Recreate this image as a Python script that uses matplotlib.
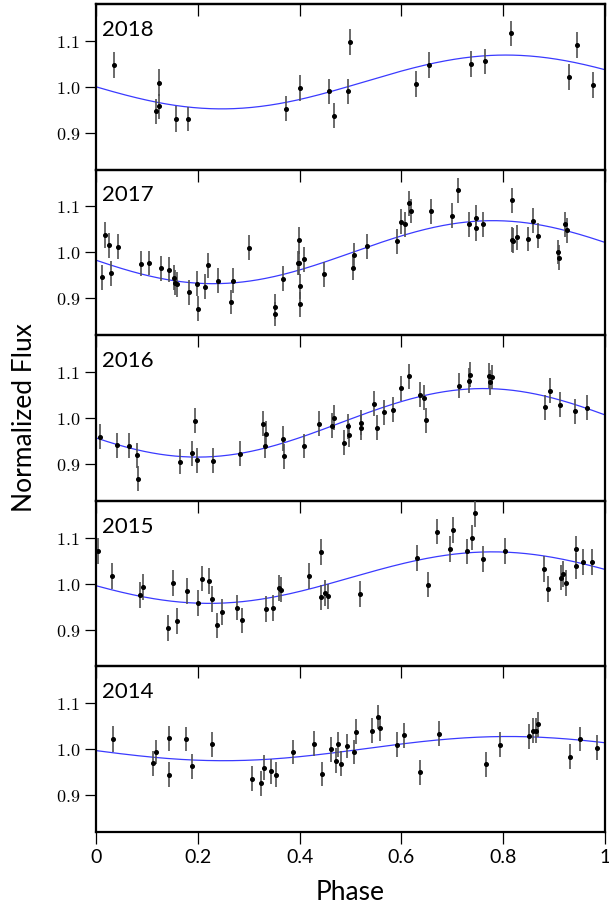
import numpy as np
import matplotlib
matplotlib.use("Agg")
import matplotlib.pyplot as plt
from matplotlib.ticker import FuncFormatter, FixedLocator

plt.rcParams['mathtext.fontset'] = 'cm'
SANS = ['Lato', 'DejaVu Sans']

years = ["2018", "2017", "2016", "2015", "2014"]

# ---- data (phase, normalized flux, error) ----
phase_2018 = [0.036, 0.118, 0.124, 0.124, 0.157, 0.181, 0.373, 0.400, 0.458, 0.467,
              0.496, 0.499, 0.629, 0.655, 0.737, 0.765, 0.816, 0.929, 0.945, 0.976]
flux_2018 = [1.047, 0.947, 1.009, 0.958, 0.930, 0.930, 0.952, 0.998, 0.990, 0.937,
             0.990, 1.098, 1.006, 1.047, 1.050, 1.055, 1.116, 1.022, 1.091, 1.004]
err_2018 = [0.028, 0.027, 0.029, 0.027, 0.028, 0.027, 0.027, 0.028, 0.028, 0.027,
            0.028, 0.028, 0.028, 0.028, 0.028, 0.028, 0.028, 0.028, 0.028, 0.028]

phase_2017 = [0.012, 0.018, 0.026, 0.029, 0.043, 0.088, 0.105, 0.128, 0.143, 0.154,
              0.156, 0.160, 0.183, 0.198, 0.200, 0.215, 0.220, 0.240, 0.265, 0.269,
              0.301, 0.351, 0.352, 0.368, 0.396, 0.398, 0.399, 0.400, 0.400, 0.409,
              0.448, 0.504, 0.506, 0.533, 0.592, 0.600, 0.608, 0.615, 0.619, 0.659,
              0.699, 0.711, 0.732, 0.746, 0.747, 0.760, 0.817, 0.818, 0.819, 0.827,
              0.848, 0.858, 0.868, 0.908, 0.910, 0.921, 0.925]
flux_2017 = [0.946, 1.037, 1.015, 0.955, 1.012, 0.975, 0.977, 0.965, 0.962, 0.945,
             0.934, 0.931, 0.913, 0.932, 0.878, 0.925, 0.972, 0.938, 0.892, 0.938,
             1.010, 0.882, 0.866, 0.943, 0.977, 1.026, 0.977, 0.926, 0.887, 0.985,
             0.952, 0.966, 0.994, 1.013, 1.024, 1.067, 1.061, 1.107, 1.090, 1.089,
             1.080, 1.135, 1.061, 1.075, 1.052, 1.061, 1.113, 1.028, 1.025, 1.033,
             1.029, 1.069, 1.036, 1.001, 0.988, 1.061, 1.048]
err_2017 = [0.027, 0.028, 0.027, 0.027, 0.027, 0.027, 0.027, 0.027, 0.027, 0.027,
            0.027, 0.027, 0.027, 0.027, 0.027, 0.027, 0.027, 0.027, 0.027, 0.027,
            0.027, 0.027, 0.027, 0.027, 0.027, 0.030, 0.027, 0.027, 0.027, 0.027,
            0.027, 0.027, 0.027, 0.027, 0.027, 0.027, 0.027, 0.027, 0.027, 0.027,
            0.027, 0.027, 0.027, 0.027, 0.027, 0.027, 0.027, 0.027, 0.027, 0.027,
            0.027, 0.027, 0.027, 0.027, 0.027, 0.027, 0.027]

phase_2016 = [0.007, 0.042, 0.064, 0.081, 0.083, 0.166, 0.189, 0.195, 0.198, 0.229,
              0.282, 0.328, 0.334, 0.333, 0.367, 0.369, 0.409, 0.439, 0.463, 0.467,
              0.487, 0.496, 0.497, 0.521, 0.521, 0.546, 0.553, 0.565, 0.584, 0.599,
              0.615, 0.636, 0.645, 0.649, 0.714, 0.732, 0.735, 0.772, 0.775, 0.778,
              0.882, 0.892, 0.911, 0.941, 0.964]
flux_2016 = [0.959, 0.941, 0.940, 0.919, 0.868, 0.905, 0.923, 0.994, 0.908, 0.907,
             0.922, 0.988, 0.966, 0.939, 0.955, 0.917, 0.939, 0.988, 0.983, 1.001,
             0.946, 0.982, 0.963, 0.990, 0.979, 1.031, 0.979, 1.012, 1.018, 1.065,
             1.091, 1.051, 1.044, 0.995, 1.070, 1.081, 1.094, 1.092, 1.078, 1.089,
             1.023, 1.059, 1.029, 1.015, 1.022]
err_2016 = [0.027, 0.027, 0.027, 0.027, 0.027, 0.027, 0.027, 0.027, 0.027, 0.027,
            0.027, 0.027, 0.027, 0.027, 0.027, 0.027, 0.027, 0.027, 0.027, 0.027,
            0.027, 0.027, 0.027, 0.027, 0.027, 0.027, 0.027, 0.027, 0.027, 0.027,
            0.027, 0.027, 0.027, 0.027, 0.027, 0.027, 0.027, 0.027, 0.027, 0.027,
            0.027, 0.027, 0.027, 0.027, 0.027]

phase_2015 = [0.003, 0.031, 0.087, 0.092, 0.142, 0.151, 0.159, 0.178, 0.200, 0.208,
              0.223, 0.227, 0.238, 0.248, 0.278, 0.287, 0.335, 0.347, 0.360, 0.363,
              0.419, 0.443, 0.443, 0.449, 0.455, 0.519, 0.631, 0.653, 0.670, 0.696,
              0.702, 0.729, 0.738, 0.744, 0.760, 0.804, 0.880, 0.889, 0.914, 0.918,
              0.923, 0.943, 0.943, 0.956, 0.975]
flux_2015 = [1.071, 1.017, 0.975, 0.992, 0.904, 1.001, 0.919, 0.984, 0.958, 1.011,
             1.005, 0.967, 0.909, 0.938, 0.948, 0.920, 0.945, 0.947, 0.990, 0.987,
             1.016, 1.068, 0.970, 0.980, 0.972, 0.977, 1.056, 0.998, 1.113, 1.076,
             1.117, 1.070, 1.100, 1.153, 1.054, 1.071, 1.032, 0.988, 1.013, 1.021,
             1.002, 1.075, 1.039, 1.047, 1.047]
err_2015 = [0.028, 0.028, 0.028, 0.028, 0.028, 0.028, 0.028, 0.028, 0.028, 0.028,
            0.028, 0.028, 0.028, 0.028, 0.028, 0.028, 0.028, 0.028, 0.028, 0.028,
            0.028, 0.028, 0.028, 0.028, 0.028, 0.028, 0.028, 0.028, 0.028, 0.028,
            0.028, 0.028, 0.028, 0.029, 0.028, 0.028, 0.028, 0.028, 0.028, 0.028,
            0.028, 0.028, 0.028, 0.028, 0.028]

phase_2014 = [0.033, 0.113, 0.118, 0.143, 0.144, 0.177, 0.189, 0.227, 0.307, 0.324,
              0.330, 0.344, 0.354, 0.387, 0.429, 0.444, 0.461, 0.471, 0.476, 0.481,
              0.494, 0.507, 0.511, 0.543, 0.555, 0.558, 0.592, 0.605, 0.637, 0.673,
              0.766, 0.794, 0.851, 0.859, 0.864, 0.868, 0.931, 0.951, 0.984]
flux_2014 = [1.022, 0.969, 0.994, 1.024, 0.945, 1.022, 0.963, 1.011, 0.936, 0.926,
             0.960, 0.952, 0.945, 0.994, 1.012, 0.946, 1.000, 0.975, 1.011, 0.968,
             1.007, 0.994, 1.038, 1.040, 1.070, 1.045, 1.010, 1.030, 0.950, 1.034,
             0.967, 1.010, 1.028, 1.040, 1.040, 1.054, 0.984, 1.022, 1.003]
err_2014 = [0.028, 0.027, 0.027, 0.027, 0.027, 0.027, 0.027, 0.027, 0.027, 0.027,
            0.027, 0.027, 0.027, 0.027, 0.027, 0.027, 0.027, 0.027, 0.027, 0.027,
            0.027, 0.027, 0.027, 0.027, 0.027, 0.027, 0.027, 0.027, 0.027, 0.027,
            0.027, 0.027, 0.027, 0.027, 0.027, 0.027, 0.027, 0.027, 0.027]

# ---- fitted sinusoid parameters per season: mean, amplitude, period, phase of max ----
fit_mean = [1.0105, 1.0005, 0.9895, 1.013, 1.0013]
fit_amp = [0.0585, 0.0685, 0.0745, 0.056, 0.0263]
fit_period = [1.116, 1.10, 1.123, 1.114, 1.119]
fit_tmax = [0.805, 0.78, 0.761, 0.779, 0.81]

phases = [phase_2018, phase_2017, phase_2016, phase_2015, phase_2014]
fluxes = [flux_2018, flux_2017, flux_2016, flux_2015, flux_2014]
errs = [err_2018, err_2017, err_2016, err_2015, err_2014]

fig = plt.figure(figsize=(6.09, 9.08), dpi=100)
gs = fig.add_gridspec(5, 1, left=0.1576, right=0.9934, top=0.9956, bottom=0.0837, hspace=0)
axes = [fig.add_subplot(gs[i]) for i in range(5)]

xgrid = np.linspace(0, 1, 400)
for i, ax in enumerate(axes):
    ax.set_facecolor('none')
    model = fit_mean[i] + fit_amp[i] * np.cos(2 * np.pi * (xgrid - fit_tmax[i]) / fit_period[i])
    ax.plot(xgrid, model, color='#3a3aff', lw=0.9, zorder=1)
    ax.errorbar(phases[i], fluxes[i], yerr=errs[i], fmt='o', ms=2.6, mfc='black', mec='black',
                ecolor='#505050', elinewidth=1.2, capsize=0, zorder=3)
    ax.set_xlim(0, 1)
    ax.set_ylim(0.82, 1.18)
    ax.yaxis.set_major_locator(FixedLocator([0.9, 1.0, 1.1]))
    ax.yaxis.set_major_formatter(FuncFormatter(lambda v, p: r'$%.1f$' % v))
    ax.xaxis.set_major_locator(FixedLocator([0, 0.2, 0.4, 0.6, 0.8, 1.0]))
    ax.tick_params(axis='y', direction='out', length=8, width=0.9, labelsize=13, left=True, right=False)
    ax.tick_params(axis='x', direction='out', length=8.5, width=0.9, labelsize=14, bottom=True, top=False)
    for sp in ax.spines.values():
        sp.set_linewidth(1.6)
    ax.text(0.012, 0.905, years[i], transform=ax.transAxes, family=SANS,
            fontsize=16, ha='left', va='top')
    if i < 4:
        ax.set_xticklabels([])
    else:
        ax.xaxis.set_major_formatter(FuncFormatter(lambda v, p: '%g' % v))
        for lab in ax.get_xticklabels():
            lab.set_family(SANS)
        ax.set_xlabel('Phase', fontsize=19, labelpad=10, family=SANS)

sec = axes[0].secondary_xaxis('top')
sec.xaxis.set_major_locator(FixedLocator([0, 0.2, 0.4, 0.6, 0.8, 1.0]))
sec.tick_params(direction='in', length=8.5, width=0.9)
sec.set_xticklabels([])
sec.spines['top'].set_linewidth(1.6)

fig.text(0.04, (0.9956 + 0.0837) / 2, 'Normalized Flux', rotation=90, family=SANS,
         fontsize=19, ha='center', va='center')

fig.savefig('out.png', dpi=100)
